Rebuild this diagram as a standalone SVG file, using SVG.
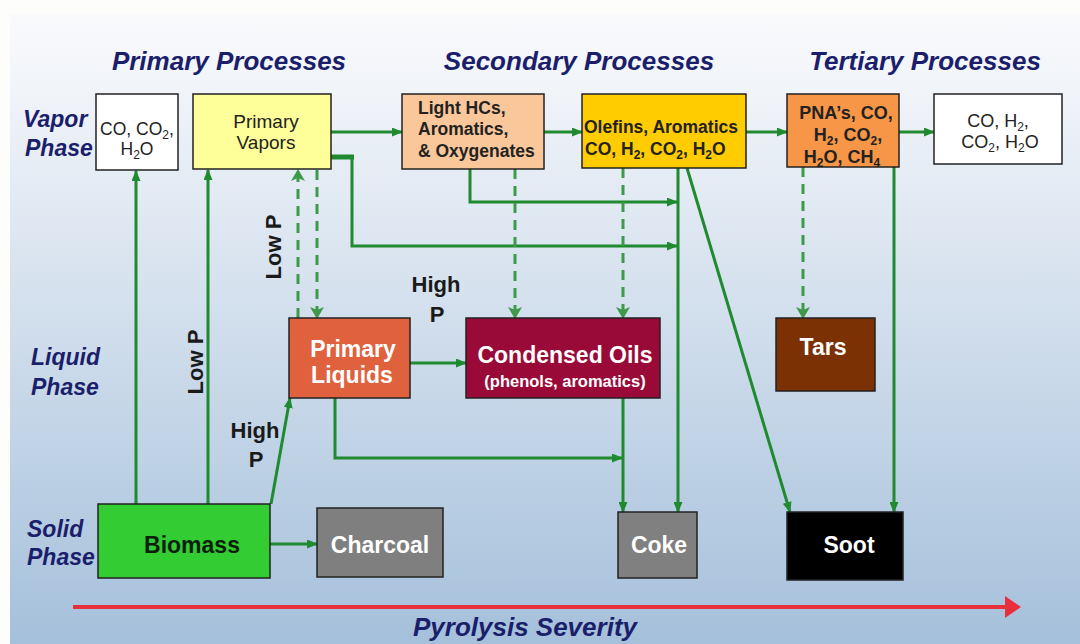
<svg xmlns="http://www.w3.org/2000/svg" width="1080" height="644" viewBox="0 0 1080 644">
<defs>
<linearGradient id="bg" x1="0" y1="0" x2="0" y2="1">
<stop offset="0" stop-color="#f9fafc"/>
<stop offset="0.12" stop-color="#f1f4f9"/>
<stop offset="1" stop-color="#a5c0db"/>
</linearGradient>
<marker id="ah" markerUnits="userSpaceOnUse" markerWidth="11" markerHeight="9" refX="10" refY="4.5" orient="auto">
<path d="M0,0 L11,4.5 L0,9 Z" fill="#1f8a2f"/>
</marker>
<marker id="ahd" markerUnits="userSpaceOnUse" markerWidth="12" markerHeight="14" refX="11" refY="7" orient="auto">
<path d="M0,0 L12,7 L0,14 L3,7 Z" fill="#3d9a48"/>
</marker>
<style>
.box{stroke:#222;stroke-width:1.5}
.c{fill:none;stroke:#1f8a2f;stroke-width:3}
.d{fill:none;stroke:#3d9a48;stroke-width:3;stroke-dasharray:10,7}
.h{font-family:"Liberation Sans",Arial,sans-serif;font-weight:bold;font-style:italic;fill:#1b1f6b}
.t{font-family:"Liberation Sans",Arial,sans-serif}
.b{font-weight:bold}
.w{fill:#ffffff;font-weight:bold;font-size:23px}
.k{fill:#1a1a1a;font-weight:bold;font-size:22px}
</style>
</defs>
<rect x="0" y="0" width="1080" height="644" fill="#fdfdfb"/>
<rect x="10" y="14" width="1070" height="630" fill="url(#bg)"/>

<g id="labels">
<text class="h" x="229" y="70" font-size="26" text-anchor="middle">Primary Processes</text>
<text class="h" x="579" y="70" font-size="26" text-anchor="middle">Secondary Processes</text>
<text class="h" x="925" y="70" font-size="26" text-anchor="middle">Tertiary Processes</text>
<text class="h" x="23" y="127" font-size="23">Vapor</text>
<text class="h" x="25" y="156" font-size="23">Phase</text>
<text class="h" x="31" y="365" font-size="23">Liquid</text>
<text class="h" x="31" y="395" font-size="23">Phase</text>
<text class="h" x="27" y="537" font-size="23">Solid</text>
<text class="h" x="27" y="565" font-size="23">Phase</text>
<text class="h" x="525" y="636" font-size="26" text-anchor="middle">Pyrolysis Severity</text>
<text class="t k" transform="translate(203,362) rotate(-90)" text-anchor="middle">Low P</text>
<text class="t k" transform="translate(281,247) rotate(-90)" text-anchor="middle">Low P</text>
<text class="t k" x="255" y="438" text-anchor="middle">High</text>
<text class="t k" x="256" y="467" text-anchor="middle">P</text>
<text class="t k" x="436" y="292" text-anchor="middle">High</text>
<text class="t k" x="437" y="322" text-anchor="middle">P</text>
</g>

<g id="severity-axis">
<line x1="73" y1="607" x2="1006" y2="607" stroke="#e8303c" stroke-width="4"/>
<polygon points="1005,596 1021,607 1005,618" fill="#e8303c"/>
</g>

<g id="connectors">
<path class="c" d="M136,504 V171" marker-end="url(#ah)"/>
<path class="c" d="M208,504 V170" marker-end="url(#ah)"/>
<path class="c" d="M271,504 L290,398" marker-end="url(#ah)"/>
<path class="c" d="M270,544 H317" marker-end="url(#ah)"/>
<path class="c" d="M331,132 H402" marker-end="url(#ah)"/>
<path class="c" d="M544,132 H582" marker-end="url(#ah)"/>
<path class="c" d="M746,132 H787" marker-end="url(#ah)"/>
<path class="c" d="M899,132 H934" marker-end="url(#ah)"/>
<path d="M326,157 H354" stroke="#1f8a2f" stroke-width="5" fill="none"/>
<path class="c" d="M352,157 V246 H677" marker-end="url(#ah)"/>
<path class="c" d="M470,169 V202 H677" marker-end="url(#ah)"/>
<path class="c" d="M678,168 V512" marker-end="url(#ah)"/>
<path class="c" d="M687,168 L790,512" marker-end="url(#ah)"/>
<path class="c" d="M410,363 H466" marker-end="url(#ah)"/>
<path class="c" d="M335,398 V458 H622" marker-end="url(#ah)"/>
<path class="c" d="M623,398 V512" marker-end="url(#ah)"/>
<path class="c" d="M894,167 V512" marker-end="url(#ah)"/>
<path class="d" d="M298,318 V170" marker-end="url(#ahd)"/>
<path class="d" d="M317,170 V318" marker-end="url(#ahd)"/>
<path class="d" d="M515,169 V318" marker-end="url(#ahd)"/>
<path class="d" d="M623,168 V318" marker-end="url(#ahd)"/>
<path class="d" d="M803,167 V318" marker-end="url(#ahd)"/>
</g>

<g id="node-gases1">
<rect class="box" x="96" y="94" width="82" height="76" fill="#ffffff"/>
<text class="t" font-size="17.5" fill="#222" text-anchor="middle"><tspan x="137" y="135">CO, CO<tspan dy="4" font-size="12">2</tspan><tspan dy="-4">,</tspan></tspan><tspan x="137" y="155">H<tspan dy="4" font-size="12">2</tspan><tspan dy="-4">O</tspan></tspan></text>
</g>

<g id="node-primary-vapors">
<rect class="box" x="193" y="94" width="138" height="75" fill="#ffff99"/>
<text class="t" font-size="19" fill="#222" text-anchor="middle"><tspan x="266" y="128">Primary</tspan><tspan x="266" y="149">Vapors</tspan></text>
</g>

<g id="node-light-hcs">
<rect class="box" x="402" y="94" width="142" height="75" fill="#fac79a"/>
<text class="t b" font-size="17.5" fill="#222"><tspan x="418" y="114">Light HCs,</tspan><tspan x="418" y="135">Aromatics,</tspan><tspan x="418" y="157">&amp; Oxygenates</tspan></text>
</g>

<g id="node-olefins">
<rect class="box" x="582" y="94" width="164" height="74" fill="#ffcc00"/>
<text class="t b" font-size="17.5" fill="#222"><tspan x="584" y="133">Olefins, Aromatics</tspan><tspan x="585" y="155">CO, H<tspan dy="4" font-size="12">2</tspan><tspan dy="-4">, CO</tspan><tspan dy="4" font-size="12">2</tspan><tspan dy="-4">, H</tspan><tspan dy="4" font-size="12">2</tspan><tspan dy="-4">O</tspan></tspan></text>
</g>

<g id="node-pnas">
<rect class="box" x="787" y="94" width="112" height="73" fill="#f79646"/>
<text class="t b" font-size="18" fill="#222" text-anchor="middle"><tspan x="846" y="119">PNA’s, CO,</tspan><tspan x="848" y="141">H<tspan dy="4" font-size="12">2</tspan><tspan dy="-4">, CO</tspan><tspan dy="4" font-size="12">2</tspan><tspan dy="-4">,</tspan></tspan><tspan x="842" y="163">H<tspan dy="4" font-size="12">2</tspan><tspan dy="-4">O, CH</tspan><tspan dy="4" font-size="12">4</tspan></tspan></text>
</g>

<g id="node-gases2">
<rect class="box" x="934" y="94" width="128" height="70" fill="#ffffff"/>
<text class="t" font-size="18" fill="#222" text-anchor="middle"><tspan x="998" y="127">CO, H<tspan dy="4" font-size="12">2</tspan><tspan dy="-4">,</tspan></tspan><tspan x="1000" y="148">CO<tspan dy="4" font-size="12">2</tspan><tspan dy="-4">, H</tspan><tspan dy="4" font-size="12">2</tspan><tspan dy="-4">O</tspan></tspan></text>
</g>

<g id="node-primary-liquids">
<rect class="box" x="289" y="318" width="121" height="80" fill="#e0613d"/>
<text class="t w" text-anchor="middle"><tspan x="353" y="357">Primary</tspan><tspan x="352" y="383">Liquids</tspan></text>
</g>

<g id="node-condensed-oils">
<rect class="box" x="466" y="318" width="194" height="80" fill="#990a38"/>
<text class="t w" x="565" y="363" text-anchor="middle">Condensed Oils</text>
<text class="t" x="565" y="387" font-size="16.5" font-weight="bold" fill="#ffffff" text-anchor="middle">(phenols, aromatics)</text>
</g>

<g id="node-tars">
<rect class="box" x="776" y="318" width="99" height="73" fill="#7b3104"/>
<text class="t w" x="823" y="355" text-anchor="middle">Tars</text>
</g>

<g id="node-biomass">
<rect class="box" x="98" y="504" width="172" height="74" fill="#33cc33"/>
<text class="t b" x="192" y="553" font-size="23" fill="#0c1f0c" text-anchor="middle">Biomass</text>
</g>

<g id="node-charcoal">
<rect class="box" x="317" y="508" width="126" height="69" fill="#7f7f7f"/>
<text class="t w" x="380" y="553" text-anchor="middle">Charcoal</text>
</g>

<g id="node-coke">
<rect class="box" x="618" y="512" width="79" height="66" fill="#808080"/>
<text class="t w" x="659" y="553" text-anchor="middle">Coke</text>
</g>

<g id="node-soot">
<rect class="box" x="787" y="512" width="116" height="68" fill="#000000"/>
<text class="t w" x="849" y="553" text-anchor="middle">Soot</text>
</g>
</svg>
